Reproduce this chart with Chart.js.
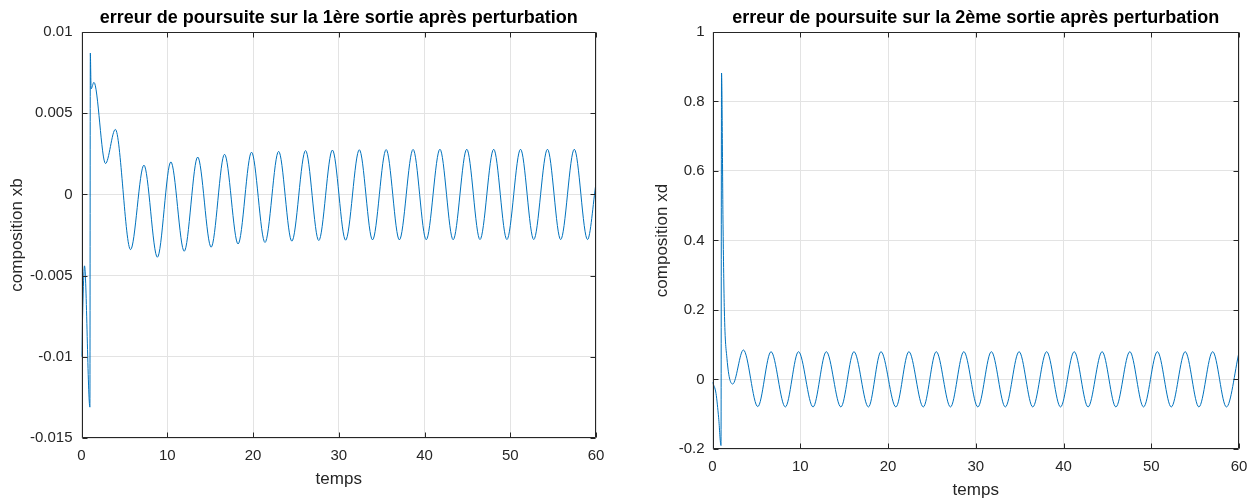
<!DOCTYPE html>
<html>
<head>
<meta charset="utf-8">
<script src="https://cdn.jsdelivr.net/npm/chart.js@4.4.1/dist/chart.umd.min.js"></script>
<style>
  html, body { margin: 0; padding: 0; background: #fff; }
  #wrap { position: relative; width: 1257px; height: 502px; overflow: hidden; }
  .pane { position: absolute; top: 0; height: 502px; }
</style>
</head>
<body>
<div id="wrap">
  <div class="pane" style="left:0;width:640px"><canvas id="chartXb" width="640" height="502"></canvas></div>
  <div class="pane" style="left:640px;width:617px"><canvas id="chartXd" width="617" height="502"></canvas></div>
</div>
<script>
// sortie 1 : extrema
const tempsXb = [0, 0.35, 0.98, 1.03, 1.12, 1.45, 2.8, 3.95,
  5.72, 7.28, 8.85, 10.42, 11.98, 13.55, 15.12, 16.68, 18.26, 19.83,
  21.4, 22.99, 24.53, 26.13, 27.67, 29.26, 30.8, 32.4, 33.94, 35.53,
  37.07, 38.67, 40.2, 41.8, 43.34, 44.93, 46.47, 48.07, 49.61, 51.2,
  52.74, 54.34, 55.88, 57.47, 59.01, 60];
const xb = [-0.0100, -0.0044, -0.0131, 0.0087, 0.0065, 0.0069, 0.0019, 0.0040,
  -0.0034, 0.0018, -0.00387, 0.0020, -0.0035, 0.0023, -0.00325, 0.00247, -0.00305, 0.0026,
  -0.00296, 0.00265, -0.00288, 0.0027, -0.00284, 0.00273, -0.00282, 0.00275, -0.0028, 0.00276,
  -0.0028, 0.00277, -0.00279, 0.00278, -0.00279, 0.00278, -0.00278, 0.00278, -0.00278, 0.00278,
  -0.00278, 0.00278, -0.00278, 0.00278, -0.00278, 0.0007];

// sortie 2
const tempsXd = [0, 0.4, 0.7, 0.97, 1.03, 1.2, 1.35, 1.65, 2.3,
  3.52, 5.16, 6.67, 8.3, 9.8, 11.46, 12.97, 14.63, 16.12, 17.77,
  19.2, 20.9, 22.38, 24.02, 25.5, 27.12, 28.64, 30.24, 31.78, 33.37,
  34.94, 36.5, 38.08, 39.66, 41.22, 42.8, 44.4, 45.97, 47.56, 49.12,
  50.7, 52.28, 53.87, 55.43, 57.0, 58.57, 60];
const xd = [-0.008, -0.04, -0.11, -0.19, 0.882, 0.45, 0.2, 0.06, -0.013,
  0.085, -0.078, 0.08, -0.079, 0.08, -0.079, 0.08, -0.079, 0.08, -0.079,
  0.08, -0.079, 0.08, -0.079, 0.08, -0.079, 0.08, -0.079, 0.08, -0.079,
  0.08, -0.079, 0.08, -0.079, 0.08, -0.079, 0.08, -0.079, 0.08, -0.079,
  0.08, -0.079, 0.08, -0.079, 0.08, -0.079, 0.078];

const xTicks = [0, 10, 20, 30, 40, 50, 60];
const xTickLabels = ['0', '10', '20', '30', '40', '50', '60'];
const yTicksXb = [-0.015, -0.01, -0.005, 0, 0.005, 0.01];
const yTickLabelsXb = ['-0.015', '-0.01', '-0.005', '0', '0.005', '0.01'];
const yTicksXd = [-0.2, 0, 0.2, 0.4, 0.6, 0.8, 1];
const yTickLabelsXd = ['-0.2', '0', '0.2', '0.4', '0.6', '0.8', '1'];

const FONT = '"Liberation Sans", Arial, Helvetica, sans-serif';
const AXIS_COLOR = '#262626';

// boite + graduations vers l'interieur, comme matlab
const matlabAxes = {
  id: 'matlabAxes',
  afterDatasetsDraw(chart) {
    const { ctx, chartArea: a, scales: { x, y } } = chart;
    const L = Math.round(a.left) + 0.5, R = Math.round(a.right) - 0.5;
    const T = Math.round(a.top) + 0.5, B = Math.round(a.bottom) - 0.5;
    ctx.save();
    ctx.strokeStyle = AXIS_COLOR;
    ctx.lineWidth = 1;
    ctx.beginPath();
    x.ticks.forEach(t => {
      const px = Math.round(x.getPixelForValue(t.value)) + 0.5;
      ctx.moveTo(px, B); ctx.lineTo(px, B - 5);
      ctx.moveTo(px, T); ctx.lineTo(px, T + 5);
    });
    y.ticks.forEach(t => {
      const py = Math.round(y.getPixelForValue(t.value)) + 0.5;
      ctx.moveTo(L, py); ctx.lineTo(L + 5, py);
      ctx.moveTo(R, py); ctx.lineTo(R - 5, py);
    });
    ctx.rect(L, T, R - L, B - T);
    ctx.stroke();
    ctx.restore();
  }
};

function makeChart(id, opts) {
  const points = opts.t.map((t, i) => ({ x: t, y: opts.v[i] }));
  return new Chart(document.getElementById(id), {
    type: 'line',
    data: {
      datasets: [{
        data: points,
        borderColor: '#0072BD',
        borderWidth: 1,
        pointRadius: 0,
        fill: false,
        cubicInterpolationMode: 'monotone'
      }]
    },
    options: {
      responsive: false,
      animation: false,
      layout: { padding: { left: 0, right: opts.padRight, top: 0, bottom: 0 } },
      plugins: {
        legend: { display: false },
        tooltip: { enabled: false },
        title: {
          display: true,
          text: opts.title,
          fullSize: false,
          color: '#000',
          font: { family: FONT, size: 18, weight: 'bold', lineHeight: 1.2 },
          padding: { top: 7, bottom: 3.4 }
        }
      },
      scales: {
        x: {
          type: 'linear',
          min: 0, max: 60,
          afterBuildTicks: s => { s.ticks = xTicks.map(v => ({ value: v })); },
          afterFit: s => { s.height = opts.xHeight; },
          grid: { color: '#e3e3e3', drawTicks: false },
          border: { display: false },
          ticks: {
            padding: opts.xTickPad,
            color: AXIS_COLOR,
            font: { family: FONT, size: 15 },
            maxRotation: 0,
            callback: (v, i) => xTickLabels[i]
          },
          title: {
            display: true,
            text: 'temps',
            color: AXIS_COLOR,
            font: { family: FONT, size: 17, lineHeight: 1.2 },
            padding: { top: 0, bottom: opts.xTitlePad }
          }
        },
        y: {
          type: 'linear',
          min: opts.yTicks[0], max: opts.yTicks[opts.yTicks.length - 1],
          afterBuildTicks: s => { s.ticks = opts.yTicks.map(v => ({ value: v })); },
          afterFit: s => { s.width = opts.yWidth; },
          grid: { color: '#e3e3e3', drawTicks: false },
          border: { display: false },
          ticks: {
            padding: opts.yTickPad,
            color: AXIS_COLOR,
            font: { family: FONT, size: 15 },
            callback: (v, i) => opts.yLabels[i]
          },
          title: {
            display: true,
            text: opts.yTitle,
            color: AXIS_COLOR,
            font: { family: FONT, size: 17, lineHeight: 1.2 },
            padding: { top: opts.yTitlePad, bottom: 0 }
          }
        }
      }
    },
    plugins: [matlabAxes]
  });
}

makeChart('chartXb', {
  t: tempsXb, v: xb,
  title: 'erreur de poursuite sur la 1ère sortie après perturbation',
  yTitle: 'composition xb',
  yTicks: yTicksXb, yLabels: yTickLabelsXb,
  padRight: 44, yWidth: 81.5, xHeight: 64,
  xTickPad: 9, yTickPad: 9, xTitlePad: 12, yTitlePad: 7
});

makeChart('chartXd', {
  t: tempsXd, v: xd,
  title: 'erreur de poursuite sur la 2ème sortie après perturbation',
  yTitle: 'composition xd',
  yTicks: yTicksXd, yLabels: yTickLabelsXd,
  padRight: 18, yWidth: 72.5, xHeight: 53,
  xTickPad: 8.5, yTickPad: 8, xTitlePad: 1, yTitlePad: 12
});
</script>
</body>
</html>
